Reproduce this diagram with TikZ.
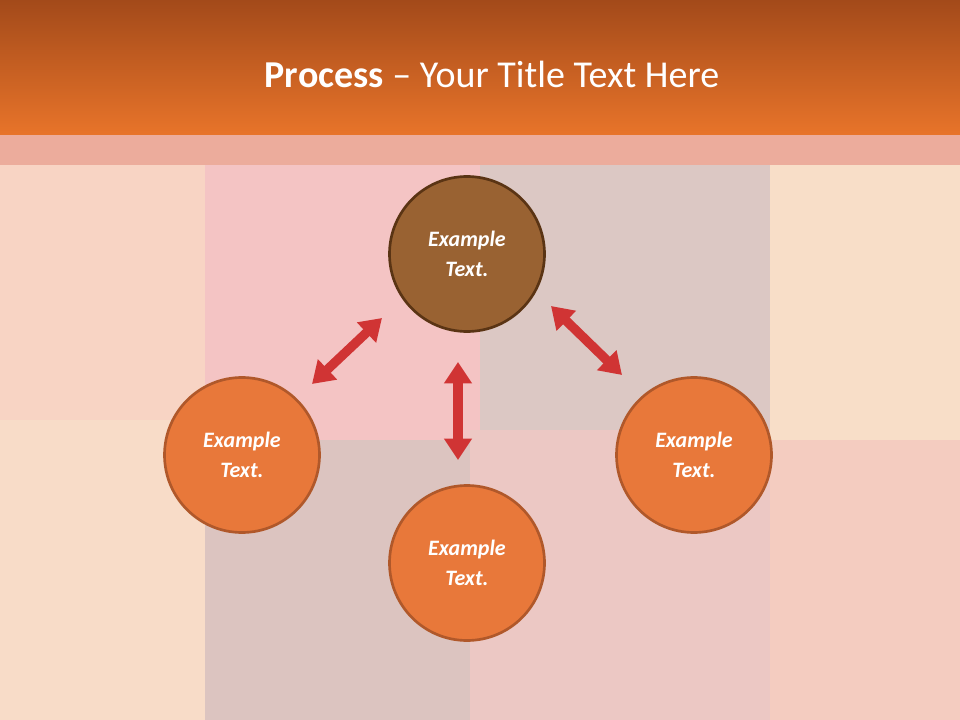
\documentclass[tikz,border=0pt]{standalone}
\usepackage{fontspec}
\setmainfont{Carlito}
\usetikzlibrary{arrows.meta}
\definecolor{hdtop}{HTML}{A34A1A}
\definecolor{hdbot}{HTML}{E8742A}
\definecolor{circ}{HTML}{E8783A}
\definecolor{circb}{HTML}{B0582A}
\definecolor{brn}{HTML}{996232}
\definecolor{brnb}{HTML}{5A3414}
\definecolor{arr}{HTML}{D03434}
\newlength\pxu \setlength\pxu{0.75pt}
\tikzset{
  bub/.style={circle,minimum size=155\pxu,line width=2pt,draw=circb,fill=circ,text=white,align=center,font=\fontsize{16.5}{22}\selectfont\bfseries\itshape},
  dbl/.style={arr,line width=7pt,{Triangle[length=16pt,width=20pt]}-{Triangle[length=16pt,width=20pt]}}
}
\begin{document}
\begin{tikzpicture}[x=0.75pt,y=-0.75pt]
\useasboundingbox (0,0) rectangle (960,720);
\fill[color={rgb,255:red,248;green,212;blue,196}] (0,135) rectangle (960,720);
\fill[color={rgb,255:red,248;green,220;blue,200}] (0,420) rectangle (205,720);
\fill[color={rgb,255:red,244;green,196;blue,196}] (205,165) rectangle (480,440);
\fill[color={rgb,255:red,220;green,200;blue,196}] (480,165) rectangle (770,430);
\fill[color={rgb,255:red,248;green,222;blue,200}] (770,165) rectangle (960,440);
\fill[color={rgb,255:red,220;green,196;blue,192}] (205,440) rectangle (470,720);
\fill[color={rgb,255:red,236;green,200;blue,196}] (470,430) rectangle (770,720);
\fill[color={rgb,255:red,244;green,204;blue,192}] (770,440) rectangle (960,720);
\fill[color={rgb,255:red,236;green,172;blue,156}] (0,135) rectangle (960,165);
\shade[top color=hdtop,bottom color=hdbot] (0,0) rectangle (960,135);
\node[text=white,font=\fontsize{28.5}{32}\selectfont] (title) at (492,74) {\textbf{Process} – Your Title Text Here};
\node[bub,fill=brn,draw=brnb] (top) at (467,254) {Example\\Text.};
\node[bub] (left) at (242,455) {Example\\Text.};
\node[bub] (right) at (694,455) {Example\\Text.};
\node[bub] (bot) at (467,563) {Example\\Text.};
\coordinate (a1) at (312,384); \coordinate (a2) at (382,318);
\coordinate (b1) at (551,306); \coordinate (b2) at (622,375);
\coordinate (c1) at (458,362); \coordinate (c2) at (458,460);
\draw[dbl] (a1) -- (a2);
\draw[dbl] (b1) -- (b2);
\draw[dbl] (c1) -- (c2);
\end{tikzpicture}
\end{document}
